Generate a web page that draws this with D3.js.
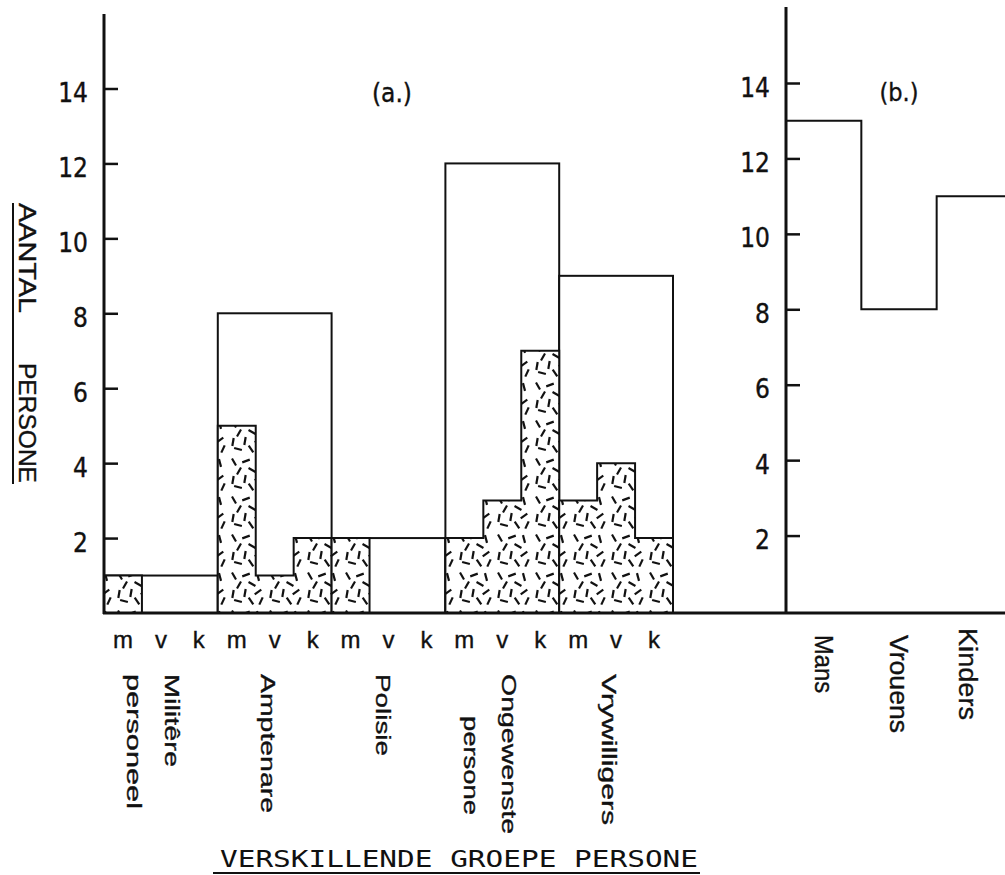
<!DOCTYPE html>
<html>
<head>
<meta charset="utf-8">
<script src="https://cdn.jsdelivr.net/npm/d3@7"></script>
<style>
  body { margin: 0; background: #fff; }
  svg { display: block; }
  text { fill: #111; stroke: #111; stroke-width: 0.35px; }
  text.plain { stroke: none; }
</style>
</head>
<body>
<svg id="chart" width="1005" height="875"></svg>
<script>
// data (a.) - groups, totals and the m / v / k split
var groups = ["Militêre personeel", "Amptenare", "Polisie", "Ongewenste persone", "Vrywilligers"];
var groupLines = [["Militêre", "personeel"], ["Amptenare"], ["Polisie"], ["Ongewenste", "persone"], ["Vrywilligers"]];
var groupTotals = [1, 8, 2, 12, 9];
var subLabels = ["m", "v", "k"];
var mValues = [1, 5, 2, 2, 3];
var vValues = [0, 1, 0, 3, 4];
var kValues = [0, 2, 0, 7, 2];
// data (b.)
var bCategories = ["Mans", "Vrouens", "Kinders"];
var bValues = [13, 8, 11];
var yTicks = [2, 4, 6, 8, 10, 12, 14];

// layout of the rotated group labels (slot offset, start y, length)
var lineLayout = [
  [[1.79, 674, 93], [0.79, 674, 135]],
  [[1.32, 674, 139]],
  [[1.36, 674, 82]],
  [[1.68, 674, 160], [0.68, 716, 99]],
  [[1.30, 674, 151]]
];
var bLabelLayout = [[0, 635, 58], [0, 635, 98], [-6, 628, 92]];

var svg = d3.select("#chart");
var numFont = "'Liberation Sans Narrow', 'DejaVu Sans Condensed', sans-serif";
var txtFont = "'Liberation Sans', Arial, sans-serif";

var yA = d3.scaleLinear().domain([0, 14]).range([613, 88.5]);
var yB = d3.scaleLinear().domain([0, 14]).range([611, 83]);
var xA = d3.scaleLinear().domain([0, 15]).range([104, 673]);
var xB = d3.scaleLinear().domain([0, 3]).range([786, 1012]);

// stipple of short dashes
var dashes = [[6, 6, 60], [18, 5, -20], [30, 7, 75], [11, 15, -60], [24, 14, 30],
  [5, 24, 100], [17, 23, -80], [30, 22, -35], [10, 31, 15], [23, 31, 55], [33, 31, -65]];
var pat = svg.append("defs").append("pattern")
  .attr("id", "stip").attr("patternUnits", "userSpaceOnUse")
  .attr("width", 38).attr("height", 38);
pat.append("rect").attr("width", 38).attr("height", 38).attr("fill", "#fff");
pat.selectAll("line").data(dashes).enter().append("line")
  .attr("x1", function (d) { return d[0] - 4 * Math.cos(d[2] * Math.PI / 180); })
  .attr("y1", function (d) { return d[1] - 4 * Math.sin(d[2] * Math.PI / 180); })
  .attr("x2", function (d) { return d[0] + 4 * Math.cos(d[2] * Math.PI / 180); })
  .attr("y2", function (d) { return d[1] + 4 * Math.sin(d[2] * Math.PI / 180); })
  .attr("stroke", "#111").attr("stroke-width", 2.2).attr("stroke-linecap", "butt");

// totals
svg.selectAll("rect.total").data(groupTotals).enter().append("rect")
  .attr("class", "total")
  .attr("x", function (d, i) { return xA(3 * i); })
  .attr("y", function (d) { return yA(d); })
  .attr("width", function (d, i) { return xA(3 * i + 3) - xA(3 * i); })
  .attr("height", function (d) { return yA(0) - yA(d); })
  .attr("fill", "#fff").attr("stroke", "#111").attr("stroke-width", 2);

// stippled m / v / k steps
var line = d3.line();
groups.forEach(function (g, i) {
  var vals = [mValues[i], vValues[i], kValues[i]];
  var pts = [[xA(3 * i), yA(0)]];
  vals.forEach(function (v, s) {
    pts.push([xA(3 * i + s), yA(v)], [xA(3 * i + s + 1), yA(v)]);
  });
  pts.push([xA(3 * i + 3), yA(0)]);
  svg.append("path").attr("d", line(pts) + "Z")
    .attr("fill", "url(#stip)").attr("stroke", "#111").attr("stroke-width", 2);
});

// baseline
svg.append("line").attr("x1", 103).attr("x2", 1005).attr("y1", yA(0)).attr("y2", yA(0))
  .attr("stroke", "#111").attr("stroke-width", 3);

// axes
function yAxis(scale, x, top) {
  var g = svg.append("g").attr("transform", "translate(" + x + ",0)")
    .call(d3.axisLeft(scale).tickValues(yTicks).tickSizeInner(-14).tickSizeOuter(0).tickPadding(16));
  g.select(".domain").remove();
  g.selectAll(".tick line").attr("stroke", "#111").attr("stroke-width", 2.5);
  g.selectAll(".tick text").attr("font-family", numFont).attr("font-size", 26)
    .attr("fill", "#111").attr("dy", "0.5em");
  g.append("line").attr("y1", top).attr("y2", scale(0) + 1)
    .attr("stroke", "#111").attr("stroke-width", 3);
}
yAxis(yA, 104, 14);
yAxis(yB, 786, 7);

// panel (b.) step outline
var bPts = bValues.map(function (v, i) { return [xB(i), yB(v)]; });
bPts.push([xB(3), yB(bValues[bValues.length - 1])]);
svg.append("path").attr("d", d3.line().curve(d3.curveStepAfter)(bPts))
  .attr("fill", "none").attr("stroke", "#111").attr("stroke-width", 2);

// m v k labels
var slots = d3.range(15);
svg.selectAll("text.sub").data(slots).enter().append("text")
  .attr("class", "sub")
  .attr("x", function (d) { return xA(d + 0.5); })
  .attr("y", 648)
  .attr("text-anchor", "middle")
  .attr("font-family", txtFont).attr("font-size", 24)
  .text(function (d) { return subLabels[d % 3]; });

// rotated group labels
groupLines.forEach(function (lines, i) {
  lines.forEach(function (t, j) {
    var L = lineLayout[i][j];
    svg.append("text")
      .attr("transform", "translate(" + xA(3 * i + L[0]) + "," + L[1] + ") rotate(90)")
      .attr("dominant-baseline", "central")
      .attr("font-family", txtFont).attr("font-size", 20)
      .attr("textLength", L[2]).attr("lengthAdjust", "spacingAndGlyphs")
      .text(t);
  });
});

bCategories.forEach(function (c, i) {
  var L = bLabelLayout[i];
  svg.append("text")
    .attr("transform", "translate(" + (xB(i + 0.5) + L[0]) + "," + L[1] + ") rotate(90)")
    .attr("dominant-baseline", "central")
    .attr("font-family", txtFont).attr("font-size", 25)
    .attr("textLength", L[2]).attr("lengthAdjust", "spacingAndGlyphs")
    .text(c);
});

// panel titles
svg.append("text").attr("x", 392).attr("y", 102).attr("text-anchor", "middle")
  .attr("font-family", numFont).attr("font-size", 26).text("(a.)");
svg.append("text").attr("x", 899).attr("y", 101).attr("text-anchor", "middle")
  .attr("font-family", numFont).attr("font-size", 25).text("(b.)");

// y title
[["AANTAL", 203, 110], ["PERSONE", 363, 120]].forEach(function (w) {
  svg.append("text")
    .attr("transform", "translate(27," + w[1] + ") rotate(90)")
    .attr("dominant-baseline", "central")
    .attr("font-family", txtFont).attr("font-size", 24)
    .attr("textLength", w[2]).attr("lengthAdjust", "spacingAndGlyphs")
    .text(w[0]);
});
svg.append("line").attr("x1", 13).attr("x2", 13).attr("y1", 203).attr("y2", 484)
  .attr("stroke", "#111").attr("stroke-width", 2);

// x title
svg.append("text").attr("class", "plain").attr("x", 220).attr("y", 867)
  .attr("font-family", "'DejaVu Sans Mono', monospace").attr("font-size", 23)
  .attr("textLength", 478).attr("lengthAdjust", "spacingAndGlyphs")
  .text("VERSKILLENDE GROEPE PERSONE");
svg.append("line").attr("x1", 213).attr("x2", 700).attr("y1", 873).attr("y2", 873)
  .attr("stroke", "#111").attr("stroke-width", 2);
</script>
</body>
</html>
